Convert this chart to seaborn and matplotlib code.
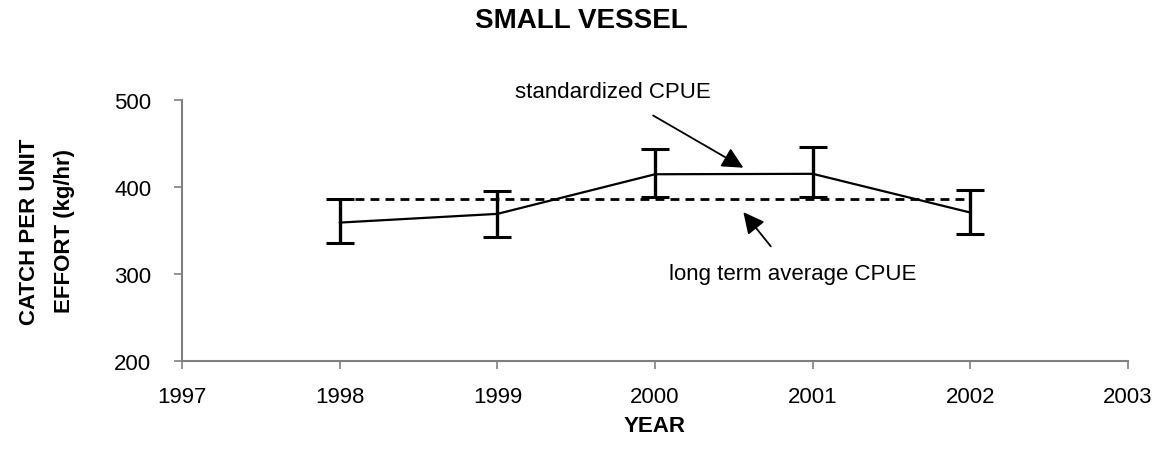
import numpy as np
import pandas as pd
import matplotlib as mpl
mpl.use("Agg")
import matplotlib.pyplot as plt
import seaborn as sns

# data
years = [1998, 1999, 2000, 2001, 2002]
cpue = [359, 369, 414.5, 415, 370.5]
cpue_low = [335, 342.5, 388, 388, 345.5]
cpue_high = [386, 395, 444, 446, 396]
long_term_avg = 386
xticks = [1997, 1998, 1999, 2000, 2001, 2002, 2003]
yticks = [200, 300, 400, 500]

sns.set_theme(style="white")
plt.rcParams['font.family'] = ['Liberation Sans', 'DejaVu Sans']
plt.rcParams['text.color'] = 'black'
plt.rcParams['axes.labelcolor'] = 'black'

df = pd.DataFrame({'year': years, 'cpue': cpue})
avg = pd.DataFrame({'year': [years[0], years[-1]], 'cpue': [long_term_avg] * 2})

fig = plt.figure(figsize=(11.63, 4.52), dpi=100)
ax = fig.add_axes([0.1565, 0.199, 0.8135, 0.578])

sns.lineplot(data=avg, x='year', y='cpue', ax=ax, color='black', lw=2,
             dashes=False, linestyle=(0, (3.2, 2.2)))
sns.lineplot(data=df, x='year', y='cpue', ax=ax, color='black', lw=1.6)

err = [np.array(cpue) - np.array(cpue_low), np.array(cpue_high) - np.array(cpue)]
ax.errorbar(years, cpue, yerr=err, fmt='none', ecolor='black',
            elinewidth=2.4, capsize=10, capthick=2.2)

ax.set_xlim(1997, 2003)
ax.set_ylim(200, 500)
ax.set_xticks(xticks)
ax.set_yticks(yticks)
ax.tick_params(axis='both', labelsize=16, colors='#808080', labelcolor='black',
               length=6, width=1.2, direction='out', bottom=True, left=True)
ax.tick_params(axis='x', pad=12)
ax.tick_params(axis='y', pad=16)
for s in ['top', 'right']:
    ax.spines[s].set_visible(False)
for s in ['left', 'bottom']:
    ax.spines[s].set_color('#808080')
    ax.spines[s].set_linewidth(1.5)

ax.set_xlabel('YEAR', fontsize=16, fontweight='bold', labelpad=6)
ax.set_ylabel('CATCH PER UNIT\nEFFORT (kg/hr)', fontsize=16, fontweight='bold',
              labelpad=28, linespacing=1.9)

fig.text(0.5, 0.953, 'SMALL VESSEL', ha='center', va='center',
         fontsize=20, fontweight='bold')

ax.annotate('standardized CPUE', xy=(2000.56, 422), xytext=(1999.73, 509),
            ha='center', va='center', fontsize=16,
            arrowprops=dict(arrowstyle='-|>', color='black', lw=1.3,
                            mutation_scale=32, shrinkA=14, shrinkB=0))
ax.annotate('long term average CPUE', xy=(2000.56, 371), xytext=(2000.87, 301),
            ha='center', va='center', fontsize=16,
            arrowprops=dict(arrowstyle='-|>', color='black', lw=1.3,
                            mutation_scale=32, shrinkA=12, shrinkB=0))

fig.savefig('out.png', dpi=100)
